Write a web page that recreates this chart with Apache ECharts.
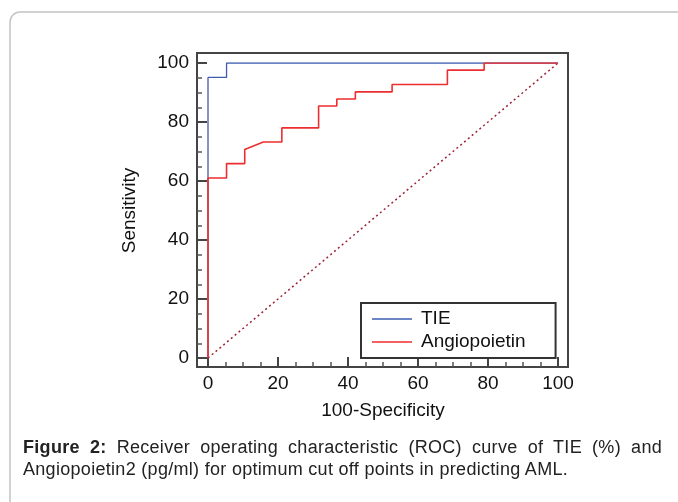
<!DOCTYPE html>
<html>
<head>
<meta charset="utf-8">
<title>ROC curve - TIE and Angiopoietin</title>
<script src="https://cdn.jsdelivr.net/npm/echarts@6.0.0/dist/echarts.min.js"></script>
<style>
  html, body { margin: 0; padding: 0; background: #fff; }
  #wrap { position: relative; width: 678px; height: 502px; overflow: hidden; }
  #roc-chart { position: absolute; left: 0; top: 0; width: 678px; height: 502px; }
  #caption {
    position: absolute; left: 23px; top: 436px; width: 639px;
    font-family: 'Liberation Sans', Arial, sans-serif; font-size: 18px;
    letter-spacing: 0.3px; line-height: 22px; text-align: justify; color: #222;
  }
</style>
</head>
<body>
<div id="wrap">
  <div id="roc-chart"></div>
  <div id="caption"><b>Figure 2:</b> Receiver operating characteristic (ROC) curve of TIE (%) and Angiopoietin2 (pg/ml) for optimum cut off points in predicting AML.</div>
</div>
<script>
// ROC points (x = 100-Specificity, y = Sensitivity)
var tieSpec = [0, 0, 5.3, 5.3, 100];
var tieSens = [0, 95.1, 95.1, 100, 100];

var angSpec = [0, 0, 5.3, 5.3, 10.5, 10.5, 15.8, 21.1, 21.1, 31.6, 31.6, 36.8, 36.8, 42.1, 42.1, 52.6, 52.6, 68.4, 68.4, 78.9, 78.9, 100];
var angSens = [0, 61, 61, 65.9, 65.9, 70.7, 73.2, 73.2, 78, 78, 85.4, 85.4, 87.8, 87.8, 90.2, 90.2, 92.7, 92.7, 97.6, 97.6, 100, 100];

var refSpec = [0, 100];
var refSens = [0, 100];

var tickValues = [0, 20, 40, 60, 80, 100];
var seriesNames = ['TIE', 'Angiopoietin'];

function zip(xs, ys) {
  return xs.map(function (x, i) { return [x, ys[i]]; });
}

var font = "'Liberation Sans', Arial, sans-serif";
var axisMin = tickValues[0];
var axisMax = tickValues[tickValues.length - 1];
var axisStep = tickValues[1] - tickValues[0];

var chart = echarts.init(document.getElementById('roc-chart'), null, { renderer: 'canvas' });

var axisCommon = {
  type: 'value',
  min: axisMin,
  max: axisMax,
  interval: axisStep,
  axisLine: { show: false, onZero: false },
  axisTick: { show: true, inside: true, length: 10, lineStyle: { color: '#444', width: 2 } },
  minorTick: { show: true, splitNumber: 4, length: 5, lineStyle: { color: '#555', width: 1.5 } },
  splitLine: { show: false },
  axisLabel: { color: '#111', fontSize: 19, fontFamily: font },
  nameLocation: 'middle',
  nameTextStyle: { color: '#111', fontSize: 19, fontFamily: font }
};

var option = {
  animation: false,
  backgroundColor: '#fff',
  grid: { left: 208, right: 120, top: 63, bottom: 144, containLabel: false },
  xAxis: Object.assign({}, axisCommon, {
    position: 'bottom',
    offset: 9,
    name: '100-Specificity',
    nameGap: 34,
    axisLabel: Object.assign({}, axisCommon.axisLabel, { margin: 7 })
  }),
  yAxis: Object.assign({}, axisCommon, {
    position: 'left',
    offset: 11,
    name: 'Sensitivity',
    nameGap: 58,
    axisLabel: Object.assign({}, axisCommon.axisLabel, { margin: 8 })
  }),
  legend: {
    data: seriesNames,
    orient: 'vertical',
    left: 361,
    top: 303,
    padding: [6, 30, 6, 11],
    itemGap: 3,
    itemWidth: 40,
    itemHeight: 1.4,
    icon: 'rect',
    borderColor: '#333',
    borderWidth: 2,
    backgroundColor: '#fff',
    textStyle: { color: '#111', fontSize: 19, fontFamily: font, lineHeight: 20, padding: [0, 0, 0, 4] }
  },
  graphic: [
    {
      type: 'rect',
      shape: { x: 10, y: 12, width: 720, height: 560, r: 10 },
      style: { fill: 'none', stroke: '#c4c4c4', lineWidth: 1.5 },
      silent: true
    },
    {
      type: 'rect',
      shape: { x: 197, y: 53, width: 371, height: 314 },
      style: { fill: 'none', stroke: '#444', lineWidth: 2 },
      silent: true
    }
  ],
  series: [
    {
      name: 'ref',
      type: 'line',
      data: zip(refSpec, refSens),
      symbol: 'none',
      silent: true,
      lineStyle: { color: '#9b2335', width: 1.5, type: [2, 3] }
    },
    {
      name: seriesNames[0],
      type: 'line',
      data: zip(tieSpec, tieSens),
      symbol: 'none',
      color: '#3d5cb0',
      lineStyle: { color: '#3d5cb0', width: 1.3 }
    },
    {
      name: seriesNames[1],
      type: 'line',
      data: zip(angSpec, angSens),
      symbol: 'none',
      color: '#ee2e2e',
      lineStyle: { color: '#ee2e2e', width: 1.6 }
    }
  ]
};

chart.setOption(option);
</script>
</body>
</html>
